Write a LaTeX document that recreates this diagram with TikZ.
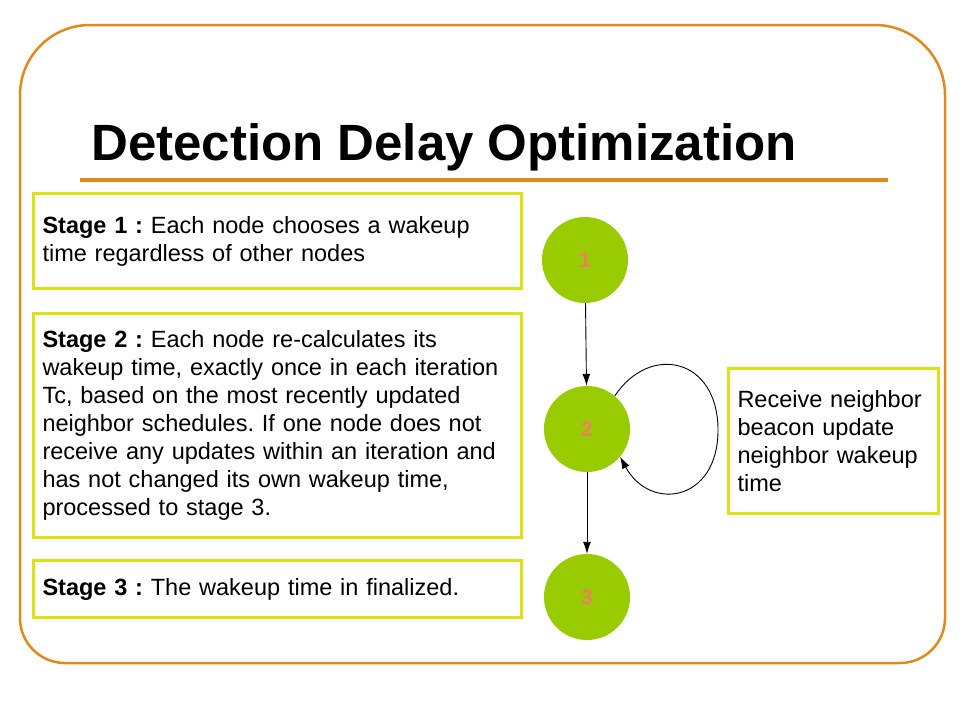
\documentclass[tikz,border=0pt]{standalone}
\usepackage{fontspec}
\setmainfont{Liberation Sans}
\usepackage{tikz}
\usetikzlibrary{positioning,arrows.meta}
\frenchspacing

\definecolor{frameorange}{RGB}{224,138,30}
\definecolor{boxyellow}{RGB}{218,226,20}
\definecolor{nodegreen}{RGB}{153,204,0}
\definecolor{numsalmon}{RGB}{240,125,95}

\begin{document}
\begin{tikzpicture}[x=1pt,y=-1pt,
    stagebox/.style={draw=boxyellow, line width=3pt, anchor=north west, align=left,
        inner xsep=9pt, inner ysep=0pt, font=\fontsize{23.5}{28}\selectfont},
    wnode/.style={circle, fill=nodegreen, minimum size=86pt, inner sep=0pt,
        text=numsalmon, font=\fontsize{21}{24}\selectfont\bfseries},
    link/.style={-{Latex[length=12pt,width=8pt]}, line width=0.9pt}]
\useasboundingbox (0,0) rectangle (960,720);

% frame and title
\draw[frameorange, line width=2.5pt] (20,345) [rounded corners=70pt] -- (20,25) -- (945,25) -- (945,345)
    [rounded corners=45pt] -- (945,663) -- (20,663) -- cycle;
\node[anchor=base west, inner sep=0pt, font=\fontsize{51}{56}\selectfont\bfseries] (title) at (91,160) {Detection Delay Optimization};
\draw[frameorange, line width=4.5pt] (80,180) -- (888,180);

% stages
\node[stagebox, text width=470pt, minimum height=95pt] (s1) at (32,192)
    {\textbf{Stage 1 :} Each node chooses a wakeup\\time regardless of other nodes};
\node[stagebox, text width=470pt, minimum height=224pt] (s2) at (32,312)
    {\textbf{Stage 2 :} Each node re-calculates its\\wakeup time, exactly once in each iteration\\Tc, based on the most recently updated\\neighbor schedules. If one node does not\\receive any updates within an iteration and\\has not changed its own wakeup time,\\processed to stage 3.};
\node[stagebox, text width=470pt, minimum height=57pt] (s3) at (32,559)
    {\textbf{Stage 3 :} The wakeup time in finalized.};
\node[stagebox, text width=192pt, minimum height=145pt] (recv) at (727,367)
    {Receive neighbor\\beacon update\\neighbor wakeup\\time};

% states
\node[wnode] (n1) at (585,260) {1};
\node[wnode] (n2) at (587,429) {2};
\node[wnode] (n3) at (587,597) {3};

\draw[link] (n1) -- (n2);
\draw[link] (n2) -- (n3);
\coordinate (loopR) at (718,430);
\draw[link] (n2.50) .. controls (650,343) and (718,358) .. (loopR)
    .. controls (718,502) and (650,512) .. (n2.-40);
\end{tikzpicture}
\end{document}
